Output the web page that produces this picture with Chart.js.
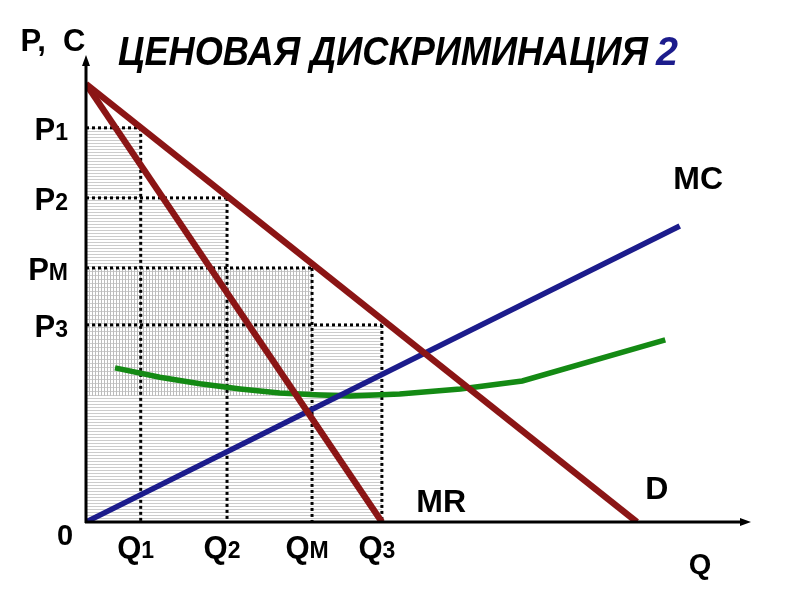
<!DOCTYPE html>
<html>
<head>
<meta charset="utf-8">
<script src="https://cdn.jsdelivr.net/npm/chart.js@4/dist/chart.umd.min.js"></script>
<style>
    body { margin: 0; background: #fff; }
    canvas { display: block; }
</style>
</head>
<body>
<canvas id="myChart" width="794" height="595"></canvas>
<script>
// données (unités arbitraires, x: 0..100, y: 0..100)
const quantites = [8.3, 21.4, 34.3, 44.9];     // Q1, Q2, QM, Q3
const prix = [84.4, 69.4, 54.4, 42.2];         // P1, P2, PM, P3
const indicesQ = ['1', '2', 'M', '3'];
const indicesP = ['1', '2', 'M', '3'];

const demandeX = [0, 83.6];                    // D
const demandeY = [93.8, 0];
const recetteMargX = [0, 44.9];                // MR
const recetteMargY = [93.8, 0];
const coutMargX = [0, 90.1];                   // MC
const coutMargY = [0, 63.4];
const coutMoyX = [4.4, 11.2, 17.3, 23.4, 29.4, 35.5, 40.1, 47.6, 56.8, 66.2, 87.9];
const coutMoyY = [33.0, 31.0, 29.6, 28.5, 27.6, 27.2, 27.0, 27.4, 28.5, 30.2, 39.0];
const niveauCoutMoy = 27.0;                    // bas du rectangle quadrillé

const titre = 'ЦЕНОВАЯ ДИСКРИМИНАЦИЯ';
const titreNum = '2';

const rouge = '#8b1515';
const bleu = '#1c1c8c';
const vert = '#148a14';
const police = '"Liberation Sans", Arial, sans-serif';

var canvas = document.getElementById('myChart');
var ctx = canvas.getContext('2d');


/**
 * motif de hachures (horizontal ou quadrillé)
 * @param {boolean} quadrille ajouter les traits verticaux
 */
function motif(quadrille) {
    const c = document.createElement('canvas');
    const w = 3;
    const h = quadrille ? 4 : 3;
    c.width = w;
    c.height = h;
    const g = c.getContext('2d');
    g.fillStyle = '#ffffff';
    g.fillRect(0, 0, w, h);
    g.fillStyle = '#cccccc';
    g.fillRect(0, h - 1, w, 1);
    if (quadrille) {
        g.fillStyle = '#bdbdbd';
        g.fillRect(w - 1, 0, 1, h);
    }
    return ctx.createPattern(c, 'repeat');
}

function points(xs, ys) {
    return xs.map((x, i) => ({x: x, y: ys[i]}));
}

function ligne(data, couleur, largeur) {
    return {
        data: data,
        showLine: true,
        borderColor: couleur,
        borderWidth: largeur,
        pointRadius: 0,
        fill: false,
        borderCapStyle: 'butt'
    };
}

// courbes (les premières sont dessinées au-dessus)
const datasets = [
    ligne(points(demandeX, demandeY), rouge, 6.5),
    ligne(points(recetteMargX, recetteMargY), rouge, 6.5),
    ligne(points(coutMargX, coutMargY), bleu, 5.5),
    ligne(points(coutMoyX, coutMoyY), vert, 5.5)
];

// pointillés des prix et des quantités
for (let i = 0; i < prix.length; i++) {
    const h = ligne([{x: 0, y: prix[i]}, {x: quantites[i], y: prix[i]}], '#000', 3);
    h.borderDash = [3, 3];
    const v = ligne([{x: quantites[i], y: prix[i]}, {x: quantites[i], y: 0}], '#000', 3);
    v.borderDash = [3, 3];
    datasets.push(h, v);
}

// rectangle quadrillé sous PM
datasets.push({
    data: [{x: 0, y: prix[2]}, {x: quantites[2], y: prix[2]}],
    showLine: true,
    borderWidth: 0,
    pointRadius: 0,
    backgroundColor: motif(true),
    fill: {value: niveauCoutMoy}
});

// escalier des prix hachuré (marches explicites)
const escalier = [];
for (let i = 0; i < prix.length; i++) {
    escalier.push({x: i === 0 ? 0 : quantites[i - 1], y: prix[i]});
    escalier.push({x: quantites[i], y: prix[i]});
}
datasets.push({
    data: escalier,
    showLine: true,
    borderWidth: 0,
    pointRadius: 0,
    backgroundColor: motif(false),
    fill: 'origin'
});

// étiquettes des courbes, en coordonnées du graphique
const etiquettesCourbes = [
    {texte: 'MR', x: 53.9, y: 4.1},
    {texte: 'D', x: 86.6, y: 6.9},
    {texte: 'MC', x: 92.9, y: 73.2}
];


function texteIndice(c, lettre, indice, x, y, align) {
    c.font = 'bold 31px ' + police;
    const w1 = c.measureText(lettre).width;
    c.font = 'bold 23px ' + police;
    const w2 = c.measureText(indice).width;
    let x0 = x;
    if (align === 'right') x0 = x - w1 - w2;
    if (align === 'center') x0 = x - (w1 + w2) / 2;
    c.textAlign = 'left';
    c.textBaseline = 'alphabetic';
    c.font = 'bold 31px ' + police;
    c.fillText(lettre, x0, y);
    c.font = 'bold 23px ' + police;
    c.fillText(indice, x0 + w1, y);
}

// axes, flèches et textes
const decor = {
    id: 'decor',
    afterDatasetsDraw(chart) {
        const c = chart.ctx;
        const sx = chart.scales.x;
        const sy = chart.scales.y;
        const x0 = sx.getPixelForValue(0);
        const y0 = sy.getPixelForValue(0);
        const haut = chart.chartArea.top;
        const droite = chart.chartArea.right + 6;

        c.save();
        c.strokeStyle = '#000';
        c.fillStyle = '#000';
        c.lineWidth = 3;
        c.beginPath();
        c.moveTo(x0, y0 + 1);
        c.lineTo(x0, haut + 8);
        c.moveTo(x0 - 1, y0);
        c.lineTo(droite - 8, y0);
        c.stroke();
        // flèches
        c.beginPath();
        c.moveTo(x0, haut);
        c.lineTo(x0 - 4, haut + 11);
        c.lineTo(x0 + 4, haut + 11);
        c.closePath();
        c.fill();
        c.beginPath();
        c.moveTo(droite, y0);
        c.lineTo(droite - 11, y0 - 4);
        c.lineTo(droite - 11, y0 + 4);
        c.closePath();
        c.fill();

        // P1, P2, PM, P3
        for (let i = 0; i < prix.length; i++) {
            texteIndice(c, 'P', indicesP[i], x0 - 18, sy.getPixelForValue(prix[i]) + 12, 'right');
        }
        // Q1, Q2, QM, Q3
        for (let i = 0; i < quantites.length; i++) {
            texteIndice(c, 'Q', indicesQ[i], sx.getPixelForValue(quantites[i]) - 5, y0 + 36, 'center');
        }

        c.font = 'bold 29px ' + police;
        c.textAlign = 'center';
        c.textBaseline = 'alphabetic';
        c.fillText('0', x0 - 21, y0 + 23);
        c.fillText('Q', 700, y0 + 52);
        c.font = 'bold 31px ' + police;
        c.fillText('P,  C', 53, 51);

        c.font = 'bold 32px ' + police;
        c.textBaseline = 'middle';
        etiquettesCourbes.forEach(e => {
            c.fillText(e.texte, sx.getPixelForValue(e.x), sy.getPixelForValue(e.y));
        });

        // titre, un peu resserré comme sur l'original
        c.font = 'italic bold 41px ' + police;
        c.textAlign = 'left';
        c.textBaseline = 'alphabetic';
        c.fillText(titre, 118, 65, 530);
        c.fillStyle = bleu;
        c.fillText(titreNum, 656, 65, 22);
        c.restore();
    }
};

var myChart = new Chart(ctx, {
    type: 'scatter',
    data: {datasets: datasets},
    options: {
        responsive: false,
        animation: false,
        layout: {
            padding: {left: 86, top: 55, right: 49, bottom: 73}
        },
        plugins: {
            legend: {display: false},
            tooltip: {enabled: false},
            filler: {propagate: false}
        },
        scales: {
            x: {type: 'linear', min: 0, max: 100, display: false},
            y: {type: 'linear', min: 0, max: 100, display: false}
        }
    },
    plugins: [decor]
});
</script>
</body>
</html>
